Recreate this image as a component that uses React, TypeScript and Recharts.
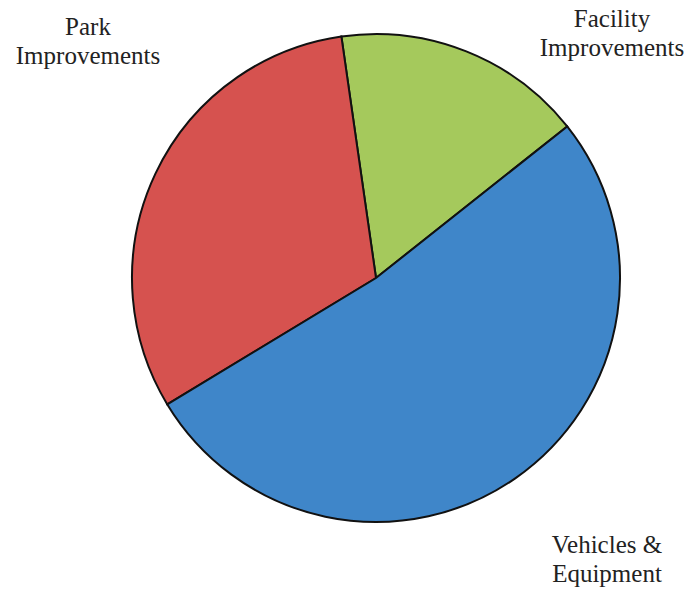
import { PieChart, Pie, Cell } from "recharts"

const CATEGORIES = ["Facility Improvements", "Park Improvements", "Vehicles & Equipment"]
const SHARES = [16.6, 31.4, 52.0]
const COLORS = ["#a5c95c", "#d6524f", "#3f86c9"]
const LABEL_LINES = [["Facility", "Improvements"], ["Park", "Improvements"], ["Vehicles &", "Equipment"]]

// label anchor offsets from pie center (first-line baseline)
const LABEL_OFFSETS = [
  { dx: 236, dy: -251 },
  { dx: -288, dy: -243 },
  { dx: 231, dy: 275 },
]

const data = CATEGORIES.map((name, i) => ({ name, value: SHARES[i] }))

const renderLabel = (props: any) => {
  const { cx, cy, index } = props
  const off = LABEL_OFFSETS[index]
  return (
    <text
      x={cx + off.dx}
      y={cy + off.dy}
      textAnchor="middle"
      fill="#222"
      style={{ fontFamily: "'Liberation Serif', 'Times New Roman', serif", fontSize: 25 }}
    >
      {LABEL_LINES[index].map((line, j) => (
        <tspan key={j} x={cx + off.dx} dy={j === 0 ? 0 : 29}>
          {line}
        </tspan>
      ))}
    </text>
  )
}

export default function App() {
  return (
    <div style={{ width: 690, height: 591, background: "#fff" }}>
      <style>{`body{margin:0}`}</style>
      <PieChart width={690} height={591} margin={{ top: 0, right: 0, bottom: 0, left: 0 }}>
        <Pie
          data={data}
          dataKey="value"
          nameKey="name"
          cx={376}
          cy={278}
          outerRadius={244}
          startAngle={38.4}
          endAngle={398.4}
          stroke="#111"
          strokeWidth={2}
          label={renderLabel}
          labelLine={false}
          isAnimationActive={false}
        >
          {data.map((entry, index) => (
            <Cell key={`cell-${index}`} fill={COLORS[index]} />
          ))}
        </Pie>
      </PieChart>
    </div>
  )
}
